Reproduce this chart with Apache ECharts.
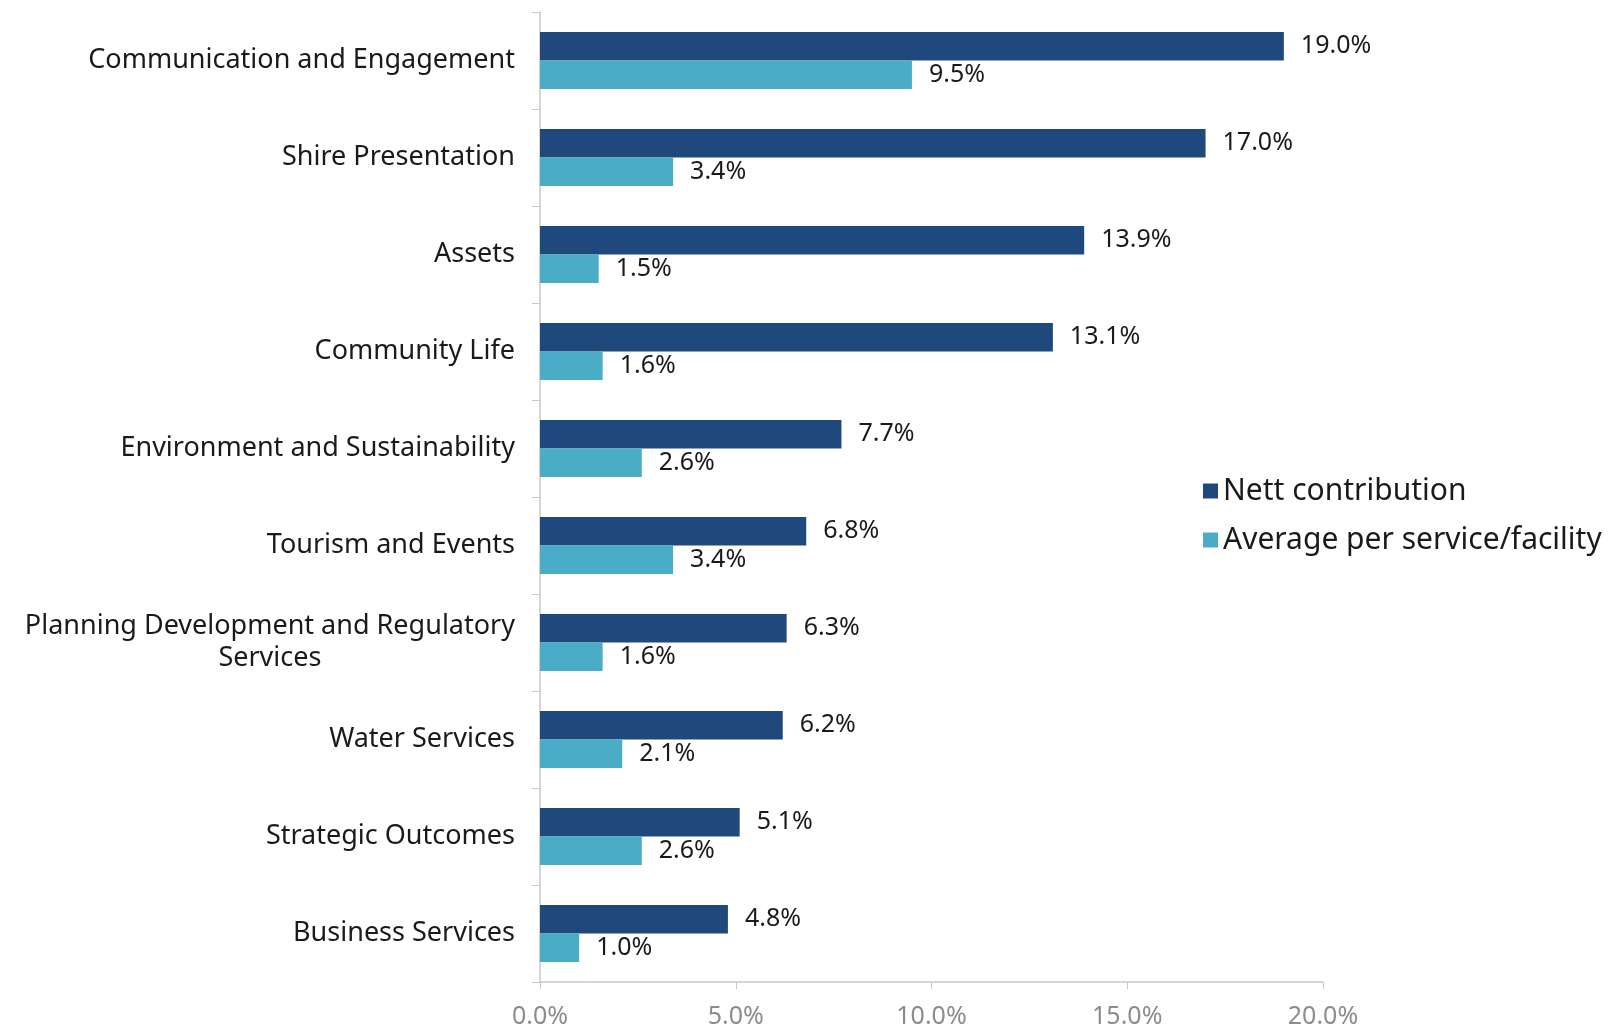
<!DOCTYPE html>
<html>
<head>
<meta charset="utf-8">
<script src="https://cdn.jsdelivr.net/npm/echarts@6/dist/echarts.min.js"></script>
<style>
  html, body { margin: 0; padding: 0; background: #fff; }
  #chart { width: 1618px; height: 1031px; }
</style>
</head>
<body>
<div id="chart"></div>
<script>
const categories = [
  'Communication and Engagement',
  'Shire Presentation',
  'Assets',
  'Community Life',
  'Environment and Sustainability',
  'Tourism and Events',
  'Planning Development and Regulatory Services',
  'Water Services',
  'Strategic Outcomes',
  'Business Services'
]
const nettContribution = [19.0, 17.0, 13.9, 13.1, 7.7, 6.8, 6.3, 6.2, 5.1, 4.8]
const averagePerService = [9.5, 3.4, 1.5, 1.6, 2.6, 3.4, 1.6, 2.1, 2.6, 1.0]

const FONT = '"Noto Sans", sans-serif'
const chart = echarts.init(document.getElementById('chart'))

const option = {
  animation: false,
  textStyle: { fontFamily: FONT },
  legend: {
    orient: 'vertical',
    left: 1198,
    top: 471,
    itemWidth: 15,
    itemHeight: 15,
    itemGap: 19,
    icon: 'rect',
    textStyle: { fontSize: 30, color: '#1a1a1a', fontFamily: FONT }
  },
  grid: { left: 540, right: 295, top: 12, bottom: 49, containLabel: false },
  xAxis: {
    type: 'value',
    min: 0,
    max: 20,
    interval: 5,
    axisLine: { show: true, lineStyle: { color: '#c8c8c8', width: 1.5 } },
    axisTick: { show: true, length: 7, lineStyle: { color: '#c8c8c8' } },
    splitLine: { show: false },
    axisLabel: {
      formatter: v => v.toFixed(1) + '%',
      fontSize: 25,
      color: '#8c8c8c',
      margin: 22
    }
  },
  yAxis: {
    type: 'category',
    data: categories,
    inverse: true,
    axisLine: { show: true, lineStyle: { color: '#c8c8c8', width: 1.5 } },
    axisTick: { show: true, length: 8, lineStyle: { color: '#c8c8c8' } },
    axisLabel: {
      fontSize: 27,
      color: '#1a1a1a',
      margin: 25,
      formatter: function (v) {
        if (v.length > 32) {
          const i = v.lastIndexOf(' ')
          return '{c|' + v.slice(0, i) + '}\n{c|' + v.slice(i + 1) + '}'
        }
        return v
      },
      rich: {
        c: { align: 'center', fontSize: 27, color: '#1a1a1a', lineHeight: 32, fontFamily: FONT }
      }
    }
  },
  series: [
    {
      name: 'Nett contribution',
      type: 'bar',
      data: nettContribution,
      barGap: '0%',
      barCategoryGap: '41%',
      itemStyle: { color: '#1f497d' },
      label: {
        show: true,
        position: 'right',
        distance: 17,
        fontSize: 25,
        color: '#1a1a1a',
        formatter: p => p.value.toFixed(1) + '%'
      }
    },
    {
      name: 'Average per service/facility',
      type: 'bar',
      data: averagePerService,
      barGap: '0%',
      barCategoryGap: '41%',
      itemStyle: { color: '#4bacc6' },
      label: {
        show: true,
        position: 'right',
        distance: 17,
        fontSize: 25,
        color: '#1a1a1a',
        formatter: p => p.value.toFixed(1) + '%'
      }
    }
  ]
}

chart.setOption(option)
</script>
</body>
</html>
